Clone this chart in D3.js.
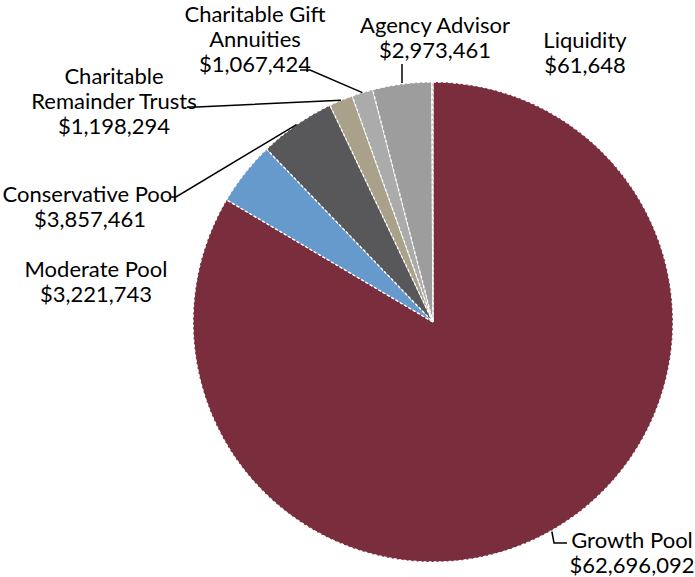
<!DOCTYPE html>
<html>
<head>
<meta charset="utf-8">
<script src="https://cdn.jsdelivr.net/npm/d3@7"></script>
<style>
  html, body { margin: 0; padding: 0; background: #fff; }
  svg text { font-family: Lato, "Open Sans", sans-serif; fill: #000; }
</style>
</head>
<body>
<svg id="chart" width="695" height="577"></svg>
<script>
// Asset allocation by pool
const categories = [
  "Growth Pool",
  "Moderate Pool",
  "Conservative Pool",
  "Charitable Remainder Trusts",
  "Charitable Gift Annuities",
  "Agency Advisor",
  "Liquidity"
];
const values = [62696092, 3221743, 3857461, 1198294, 1067424, 2973461, 61648];
const colors = ["#7a2e3d", "#6699cc", "#58585a", "#a9a189", "#ababab", "#9d9d9d", "#c8c8c8"];

// Label text lines per slice
const labelLines = [
  ["Growth Pool", "$62,696,092"],
  ["Moderate Pool", "$3,221,743"],
  ["Conservative Pool", "$3,857,461"],
  ["Charitable", "Remainder Trusts", "$1,198,294"],
  ["Charitable Gift", "Annuities", "$1,067,424"],
  ["Agency Advisor", "$2,973,461"],
  ["Liquidity", "$61,648"]
];

// Label placement: centre x, first baseline y; leader: elbow start points (null = none)
const labelLayout = [
  { x: 632, y: 548, leader: [[567, 543], [554, 543]] },
  { x: 96,  y: 277, leader: null },
  { x: 90,  y: 202, leader: [[170, 197], [176, 197]] },
  { x: 114, y: 84,  leader: [[187, 107], [197, 107]] },
  { x: 255, y: 22,  leader: [[300, 70], [310, 70]] },
  { x: 435, y: 33,  leader: "vertical" },
  { x: 585, y: 48,  leader: null }
];

const cx = 433, cy = 322, radius = 240, lineH = 25, fontSize = 22;

const svg = d3.select("#chart");
const g = svg.append("g").attr("transform", `translate(${cx},${cy})`);

const pie = d3.pie().sort(null).value(d => d)(values);
const arc = d3.arc().innerRadius(0).outerRadius(radius);

g.selectAll("path.slice")
  .data(pie)
  .join("path")
  .attr("class", "slice")
  .attr("d", arc)
  .attr("fill", (d, i) => colors[i])
  .attr("stroke", "#fff")
  .attr("stroke-width", 1.3)
  .attr("stroke-dasharray", "3,2");

// Point on the rim at a slice's mid angle, in page coordinates
function rimPoint(d) {
  const a = (d.startAngle + d.endAngle) / 2;
  return [cx + radius * Math.sin(a), cy - radius * Math.cos(a)];
}

const lines = svg.append("g")
  .attr("fill", "none")
  .attr("stroke", "#000")
  .attr("stroke-width", 1.5);

pie.forEach((d, i) => {
  const L = labelLayout[i];
  if (!L.leader) return;
  const rim = rimPoint(d);
  let pts;
  if (L.leader === "vertical") {
    pts = [[rim[0], L.y + lineH + 6], [rim[0], rim[1] - 1]];
  } else {
    pts = L.leader.concat([[rim[0], rim[1] + (i === 0 ? 1 : 0)]]);
  }
  lines.append("path").attr("d", d3.line()(pts));
});

const labels = svg.append("g");
labelLines.forEach((ls, i) => {
  const L = labelLayout[i];
  const t = labels.append("text")
    .attr("text-anchor", "middle")
    .attr("font-size", fontSize);
  ls.forEach((s, k) => {
    t.append("tspan").attr("x", L.x).attr("y", L.y + k * lineH).text(s);
  });
});
</script>
</body>
</html>
